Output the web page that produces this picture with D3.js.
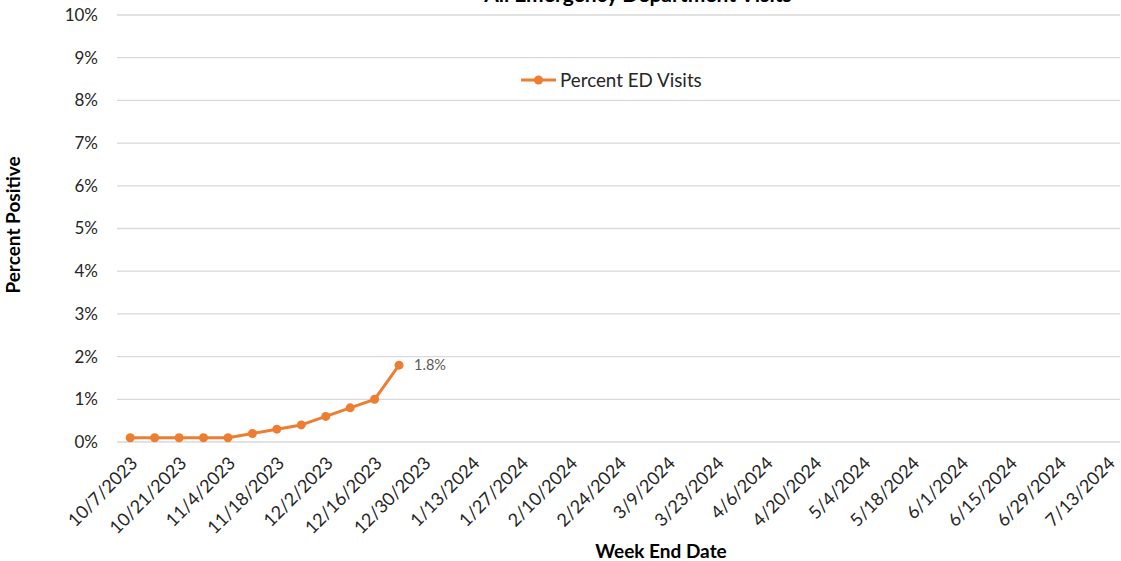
<!DOCTYPE html>
<html><head><meta charset="utf-8">
<script src="https://cdn.jsdelivr.net/npm/d3@7"></script>
<style>body{margin:0;background:#fff;}svg{display:block;font-family:Lato,"Open Sans",sans-serif;}</style>
</head><body>
<svg id="c" width="1121" height="561"></svg>
<script>
const title = "All Emergency Department Visits";
const seriesName = "Percent ED Visits";
const startDate = new Date(2023, 9, 7);
const weekCount = 41;
const values = [0.1, 0.1, 0.1, 0.1, 0.1, 0.2, 0.3, 0.4, 0.6, 0.8, 1.0, 1.8];
const yTicks = [0,1,2,3,4,5,6,7,8,9,10];

const dates = d3.range(weekCount).map(i => d3.timeDay.offset(startDate, 7*i));
const fmt = d => (d.getMonth()+1) + "/" + d.getDate() + "/" + d.getFullYear();
const cats = dates.map(fmt);

const svg = d3.select("#c");
const m = {l:118, r:1120, t:15, b:442};
const x = d3.scaleBand().domain(cats).range([m.l, m.r]);
const y = d3.scaleLinear().domain([0,10]).range([m.b, m.t]);

// gridlines
svg.append("g").selectAll("line").data(yTicks).join("line")
  .attr("x1", m.l-1).attr("x2", m.r).attr("y1", d=>y(d)).attr("y2", d=>y(d))
  .attr("stroke", "#d9d9d9").attr("stroke-width", 1.3);

// y labels
svg.append("g").selectAll("text").data(yTicks).join("text")
  .attr("x", 98).attr("y", d=>y(d)).attr("dy","0.35em").attr("text-anchor","end")
  .attr("font-size", 17).attr("fill","#262626").text(d=>d+"%");

// x labels (every other week)
svg.append("g").selectAll("text").data(cats.filter((c,i)=>i%2===0)).join("text")
  .attr("transform", d=>`translate(${x(d)+x.bandwidth()/2+4},${m.b+18}) rotate(-45)`)
  .attr("text-anchor","end").attr("dy","0.35em")
  .attr("font-size", 18).attr("fill","#262626").text(d=>d);

// line
const pts = values.map((v,i)=>({c:cats[i], v}));
const line = d3.line().x(d=>x(d.c)+x.bandwidth()/2).y(d=>y(d.v));
svg.append("path").datum(pts).attr("d", line).attr("fill","none")
  .attr("stroke","#ED7D31").attr("stroke-width",3).attr("stroke-linejoin","round");
svg.append("g").selectAll("circle").data(pts).join("circle")
  .attr("cx", d=>x(d.c)+x.bandwidth()/2).attr("cy", d=>y(d.v)).attr("r",4.5).attr("fill","#ED7D31");

// data label for last
const last = pts[pts.length-1];
svg.append("text").attr("x", x(last.c)+x.bandwidth()/2+15).attr("y", y(last.v)).attr("dy","0.35em")
  .attr("font-size",14.5).attr("fill","#595959").text(last.v.toFixed(1)+"%");

// legend
const lg = svg.append("g");
lg.append("line").attr("x1",521).attr("x2",556).attr("y1",80).attr("y2",80).attr("stroke","#ED7D31").attr("stroke-width",3);
lg.append("circle").attr("cx",538.5).attr("cy",80).attr("r",4.5).attr("fill","#ED7D31");
lg.append("text").attr("x",560).attr("y",80).attr("dy","0.35em").attr("font-size",18.8).attr("fill","#262626").text(seriesName);

// title
svg.append("text").attr("x",638).attr("y",2).attr("text-anchor","middle").attr("font-size",21)
  .attr("font-weight","bold").attr("fill","#000").text(title);

// axis titles
svg.append("text").attr("transform","translate(20,225) rotate(-90)").attr("text-anchor","middle")
  .attr("font-size",19).attr("font-weight","bold").attr("fill","#000").text("Percent Positive");
svg.append("text").attr("x",661).attr("y",551).attr("dy","0.35em").attr("text-anchor","middle")
  .attr("font-size",19).attr("font-weight","bold").attr("fill","#000").text("Week End Date");
</script>
</body></html>
